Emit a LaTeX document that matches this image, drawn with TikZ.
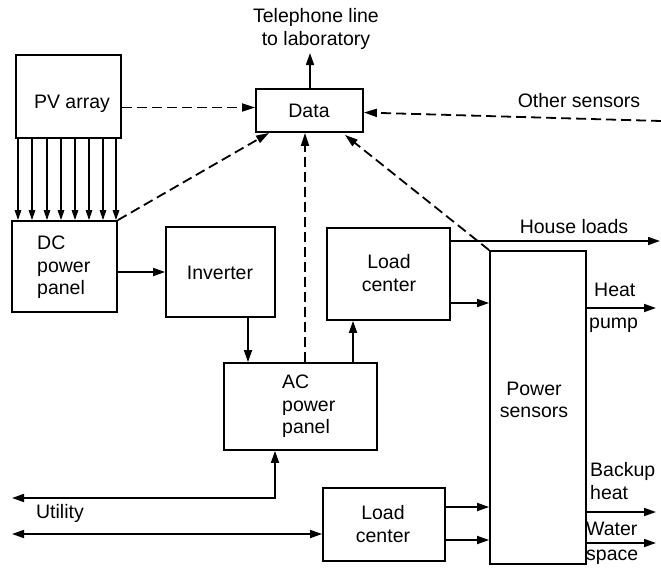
\documentclass[tikz,border=0pt]{standalone}
\usepackage{fontspec}
\setmainfont{Liberation Sans}
\usetikzlibrary{arrows.meta}
\begin{document}
\begin{tikzpicture}[x=1pt,y=-1pt,
  box/.style={draw, line width=1.8pt, inner sep=0pt},
  lbl/.style={inner sep=0pt, font=\fontsize{19.5}{22.5}\selectfont, align=left},
  arr/.style={line width=1.7pt, -{Triangle[length=12pt,width=8pt]}},
  sarr/.style={line width=1.4pt, -{Triangle[length=10pt,width=6.5pt]}},
  darr/.style={line width=1.8pt, dash pattern=on 10pt off 5pt, -{Triangle[length=13pt,width=8pt]}},
  barr/.style={line width=1.7pt, {Triangle[length=12pt,width=8pt]}-{Triangle[length=12pt,width=8pt]}}
]
\useasboundingbox (0,0) rectangle (661,571);
% boxes
\node[box, minimum width=105pt, minimum height=83pt] (pv) at (68.5,96.5) {};
\node[box, minimum width=105pt, minimum height=91pt] (dc) at (64.5,266.5) {};
\node[box, minimum width=109pt, minimum height=90pt] (inv) at (220.5,272) {};
\node[box, minimum width=107pt, minimum height=43pt] (data) at (309.5,110.5) {};
\node[box, minimum width=123pt, minimum height=92pt] (lc1) at (388.5,274) {};
\node[box, minimum width=153pt, minimum height=87pt] (ac) at (300.5,406.5) {};
\node[box, minimum width=96pt, minimum height=313pt] (ps) at (538,407.5) {};
\node[box, minimum width=122pt, minimum height=73pt] (lc2) at (384,524.5) {};
% box texts
\node[lbl] (pvt) at (72,104) {PV array};
\node[lbl, anchor=west] (dct) at (37,267.5) {DC\\power\\panel};
\node[lbl] (invt) at (220,273) {Inverter};
\node[lbl] (datat) at (309,111) {Data};
\node[lbl, align=center] (lc1t) at (389,273) {Load\\center};
\node[lbl, anchor=west] (act) at (282,406.5) {AC\\power\\panel};
\node[lbl, align=center] (pst) at (534,400) {Power\\sensors};
\node[lbl, align=center] (lc2t) at (383,524) {Load\\center};
% free labels
\node[lbl, align=center] (tel) at (316,29) {Telephone line\\to laboratory};
\node[lbl] (oth) at (579,101) {Other sensors};
\node[lbl] (hl) at (574,227) {House loads};
\node[lbl, anchor=west] (heat) at (594,290) {Heat};
\node[lbl, anchor=west] (pump) at (589,325) {pump};
\node[lbl, anchor=west, align=left] (bk) at (590,481) {Backup\\heat};
\node[lbl, anchor=west] (wat) at (586,529) {Water};
\node[lbl, anchor=west] (spc) at (586,557) {space};
\node[lbl] (util) at (60,513) {Utility};
% coordinates
\foreach \i/\x in {1/18,2/32,3/47,4/61,5/75,6/89,7/103,8/116}{
  \coordinate (t\i) at (\x,0);
  \draw[sarr] (pv.south -| t\i) -- (dc.north -| t\i);
}
\coordinate (telend) at (310,53);
\coordinate (othend) at (661,121);
\coordinate (hlend) at (660,241);
\coordinate (hpend) at (656,308);
\coordinate (bhend) at (656,512);
\coordinate (wsend) at (656,543);
\coordinate (ut1) at (12,498);
\coordinate (ut1c) at (275,498);
\coordinate (ut2) at (12,534);
\coordinate (xinv) at (248,0);
\coordinate (xdash) at (305,0);
\coordinate (xlc) at (353,0);
\coordinate (ylc1a) at (0,241);
\coordinate (ylc1b) at (0,303);
\coordinate (ylc2a) at (0,507);
\coordinate (ylc2b) at (0,540);
% connectors
\draw[darr] ([yshift=-11pt]pv.east) -- ([yshift=-11pt]pv.east -| data.west);
\draw[darr] (dc.north east) -- ([xshift=14pt]data.south west);
\draw[darr] (othend) -- ([yshift=-2pt]data.east);
\draw[darr] (ps.north west) -- ([xshift=-19pt,yshift=-2pt]data.south east);
\draw[darr] (ac.north -| xdash) -- (data.south -| xdash);
\draw[arr] (data.north -| telend) -- (telend);
\draw[arr] (dc.east |- inv.west) -- (inv.west);
\draw[arr] (inv.south -| xinv) -- (ac.north -| xinv);
\draw[arr] (ac.north -| xlc) -- (lc1.south -| xlc);
\draw[arr] (lc1.east |- ylc1a) -- (hlend);
\draw[arr] (lc1.east |- ylc1b) -- (ps.west |- ylc1b);
\draw[arr] (ps.east |- hpend) -- (hpend);
\draw[arr] (ps.east |- bhend) -- (bhend);
\draw[arr] (ps.east |- wsend) -- (wsend);
\draw[arr] (lc2.east |- ylc2a) -- (ps.west |- ylc2a);
\draw[arr] (lc2.east |- ylc2b) -- (ps.west |- ylc2b);
\draw[barr] (ut1) -- (ut1c) -- (ac.south -| ut1c);
\draw[barr] (ut2) -- (lc2.west |- ut2);
\end{tikzpicture}
\end{document}
